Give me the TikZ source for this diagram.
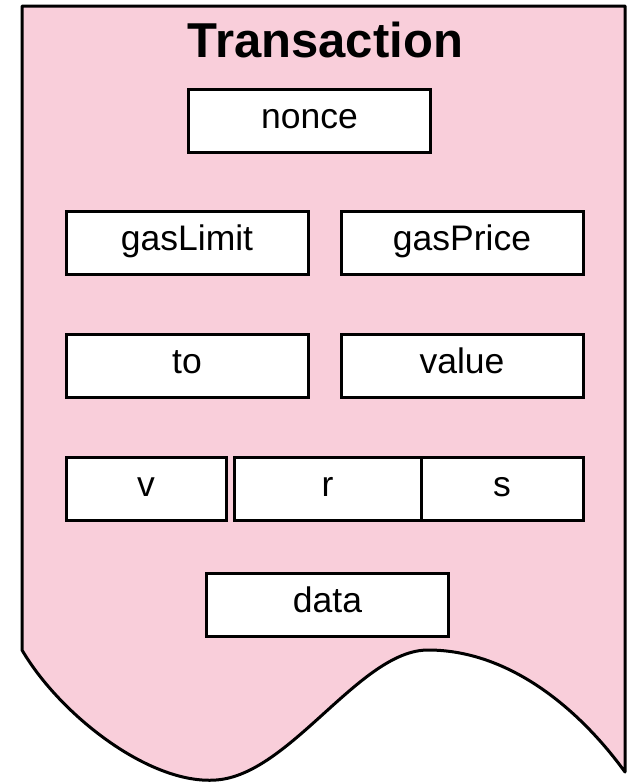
\documentclass[tikz,border=0pt]{standalone}
\usepackage{fontspec}
\setmainfont{Liberation Sans}
\usetikzlibrary{positioning}
\definecolor{txpink}{RGB}{249,206,218}

\begin{document}
\begin{tikzpicture}[x=1pt,y=-1pt]
  \tikzstyle{field}=[rectangle,line width=3pt,draw=black,fill=white,minimum width=242pt,minimum height=63pt,inner sep=0pt,text height=22pt,text depth=8pt,font=\fontsize{35.5}{40}\selectfont]
  \tikzstyle{sig}=[field,minimum width=160pt]

  \useasboundingbox (0,0) rectangle (628,782);
  \draw[line width=3pt,fill=txpink,line join=round]
    (22,6) -- (625,6) -- (625,772)
    .. controls (580,710) and (510,650) .. (428,650)
    .. controls (360,650) and (290,775) .. (216,780)
    .. controls (150,785) and (60,715) .. (22,650) -- cycle;

  \node[anchor=base,font=\bfseries\fontsize{49}{54}\selectfont](title) at (325.5,57){Transaction};
  \node[field](nonce) at (309.5,121){nonce};
  \node[field,below=56pt of nonce,xshift=-122.5pt](gaslimit){gasLimit};
  \node[field,right=30pt of gaslimit](gasprice){gasPrice};
  \node[field,below=57pt of gaslimit](to){to};
  \node[field,right=30pt of to](value){value};
  \node[sig,below=57pt of to.south west,anchor=north west](v){v};
  \node[sig,minimum width=187pt,right=5pt of v](r){r};
  \node[sig,minimum width=162pt,right=-3pt of r](s){s};
  \node[field,below=50pt of r](data){data};
\end{tikzpicture}
\end{document}
